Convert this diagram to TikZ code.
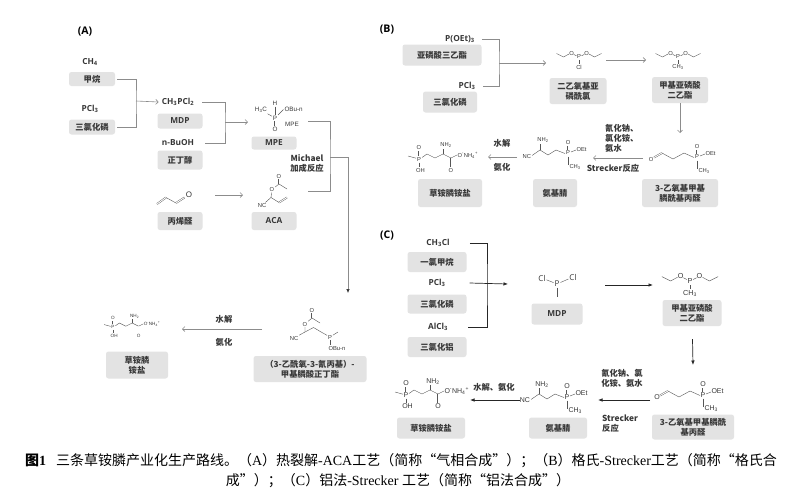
\documentclass[tikz,border=0pt]{standalone}
\usepackage{fontspec}
\setmainfont{Liberation Serif}
\newfontfamily\cjk{Noto Sans CJK SC}
\newfontfamily\lab{Open Sans}
\newfontfamily\atomfont{Liberation Sans}
\usetikzlibrary{arrows.meta,positioning}
\definecolor{boxgray}{HTML}{E3E3E3}
\definecolor{inkgray}{HTML}{383838}
\definecolor{linegray}{HTML}{8C8C8C}
\newcommand{\romtxt}[1]{{\rmfamily #1}}

\tikzset{
  namebox/.style={fill=boxgray, rounded corners=2.5pt, text=inkgray, align=center, inner sep=1pt,
    font=\cjk\bfseries\fontsize{8.3}{10}\selectfont},
  latinbox/.style={namebox, font=\lab\bfseries\fontsize{8.3}{10}\selectfont},
  formula/.style={text=inkgray, inner sep=1pt, font=\lab\bfseries\fontsize{8.3}{10}\selectfont},
  cond/.style={text=inkgray, inner sep=1pt, align=center, font=\cjk\bfseries\fontsize{8.3}{10}\selectfont},
  panel/.style={text=black, inner sep=1pt, font=\lab\bfseries\fontsize{10.5}{12}\selectfont},
  atom/.style={text=inkgray, inner sep=0.8pt, font=\atomfont\fontsize{5.8}{6}\selectfont},
  bigatoms/.style={atom/.append style={font=\atomfont\fontsize{7}{7}\selectfont}},
  bond/.style={draw=inkgray!85, line width=0.4pt},
  dbond/.style={bond, double=white, double distance=0.9pt},
  link/.style={draw=linegray, line width=0.6pt},
  thinarrow/.style={link, -{Straight Barb[length=2.5pt,width=5pt]}},
  droparrow/.style={link, -{Latex[length=4pt,width=3.5pt,color=black!80]}},
  cline/.style={draw=black!85, line width=0.7pt},
  blackarrow/.style={cline, -{Latex[length=4.5pt,width=3.5pt]}},
  caption/.style={text=black, inner sep=0pt, font=\cjk\fontsize{14}{16}\selectfont},
  % structures used more than once
  glufos/.pic={
    \node[atom] at (0,0) {P};
    \node[atom] at (0,-11.5) {O};
    \node[atom] at (1.5,11.5) {OH};
    \draw[dbond] (0,-3.5) -- (0,-8);
    \draw[bond] (0,3.5) -- (0,8);
    \draw[bond] (-11,-3) -- (-3,-0.8);
    \draw[bond] (3,-1.5) -- (8,-5) -- (16,-1) -- (24,-5) -- (32,-1);
    \draw[bond] (24,-5) -- (24,-10);
    \node[atom] at (27,-13.5) {NH\textsubscript{2}};
    \draw[dbond] (32,-1) -- (32,8);
    \node[atom] at (32,11.5) {O};
    \draw[bond] (32,-1) -- (38,-4);
    \node[atom, anchor=west] at (37.5,-3.5) {O\textsuperscript{-}NH\textsubscript{4}\textsuperscript{+}};
  },
  aminonitrile/.pic={
    \node[atom] at (0,0) {P};
    \node[atom] at (0,-10.5) {O};
    \draw[dbond] (0,-3.5) -- (0,-7.5);
    \draw[bond] (3,-1) -- (8,-3);
    \node[atom, anchor=west] at (7.5,-3.5) {OEt};
    \draw[bond] (0,3.5) -- (0,12);
    \node[atom, anchor=west] at (0.5,14) {CH\textsubscript{3}};
    \draw[bond] (-3,0.5) -- (-12,-3) -- (-20,2) -- (-28,-3) -- (-36,2.5);
    \draw[bond] (-28,-3) -- (-28,-9);
    \node[atom] at (-25,-12.5) {NH\textsubscript{2}};
    \node[atom, anchor=east] at (-36,3.5) {NC};
  },
  aldehyde/.pic={
    \node[atom] at (0,0) {P};
    \node[atom] at (0,-10.5) {O};
    \draw[dbond] (0,-3.5) -- (0,-7.5);
    \draw[bond] (3,-1) -- (8,-3);
    \node[atom, anchor=west] at (7.5,-3.5) {OEt};
    \draw[bond] (0,3.5) -- (0,12);
    \node[atom, anchor=west] at (0.5,14) {CH\textsubscript{3}};
    \draw[bond] (-3,0.5) -- (-13,-4) -- (-24,2) -- (-35,-4);
    \draw[dbond] (-35,-4) -- (-43,0.5);
    \node[atom] at (-46,2) {O};
  },
  dep/.pic={
    \node[atom] at (0,0) {P};
    \node[atom] at (-7.5,-4) {O};
    \node[atom] at (7.5,-4) {O};
    \draw[bond] (-5.3,-2.6) -- (-2.5,-1.2) (2.5,-1.2) -- (5.3,-2.6);
    \draw[bond] (-10,-3) -- (-15.5,0) -- (-22.5,-3.5);
    \draw[bond] (10,-3) -- (15.5,0) -- (22.5,-3.5);
    \draw[bond] (0,3.2) -- (0,6.5);
    \node[atom] at (0,10) {#1};
  },
}

\begin{document}
\begin{tikzpicture}[x=1pt,y=-1pt]
  \useasboundingbox (0,0) rectangle (798,496);
  \fill[white] (0,0) rectangle (798,496);

  % (A)
  \node[panel] (labA) at (85,32) {(A)};
  \node[formula] (ch4) at (90,62) {CH\textsubscript{4}};
  \node[namebox, minimum width=46, minimum height=14] (ch4box) at (92,79) {甲烷};
  \node[formula] (pcl3a) at (90,109) {PCl\textsubscript{3}};
  \node[namebox, minimum width=46, minimum height=15] (pcl3abox) at (92,127) {三氯化磷};
  \node[formula] (mdpf) at (178,102) {CH\textsubscript{3}PCl\textsubscript{2}};
  \node[latinbox, minimum width=45, minimum height=15] (mdpbox) at (180,121) {MDP};
  \node[formula] (buoh) at (178,143) {n-BuOH};
  \node[namebox, minimum width=45, minimum height=19] (buohbox) at (180,160) {正丁醇};
  \node[latinbox, minimum width=45, minimum height=13] (mpebox) at (274,143) {MPE};
  \node[namebox, minimum width=45, minimum height=18] (acrbox) at (180,221) {丙烯醛};
  \node[latinbox, minimum width=45, minimum height=18] (acabox) at (274,221) {ACA};
  \node[cond] (michael) at (307,164) {Michael\\加成反应};
  \node[namebox, minimum width=113, minimum height=26] (esterbox) at (310,369) {（3-乙酰氧-3-氰丙基）-\\甲基膦酸正丁酯};
  \node[namebox, minimum width=62, minimum height=27] (glufabox) at (137,365) {草铵膦\\铵盐};
  \node[cond] (hydra) at (224,319) {水解};
  \node[cond] (amina) at (224,342) {氨化};

  \begin{scope}[atom/.append style={font=\atomfont\fontsize{6.3}{7}\selectfont}]
    \node[atom] (mpep) at (275,118) {P};
    \node[atom] (mpeh) at (275,103.5) {H};
    \node[atom] (mpec) at (261,110) {H\textsubscript{3}C};
    \node[atom, anchor=west] (mpeo) at (283.5,109.5) {OBu-n};
    \node[atom] (mpeoo) at (275,129) {O};
    \node[atom] (mpetag) at (292,124) {MPE};
    \draw[bond] (mpeh) -- (mpep);
    \draw[bond] (mpec) -- (mpep);
    \draw[bond] (mpep) -- (mpeo.west);
    \draw[dbond] (mpep) -- (mpeoo);
  \end{scope}
  \draw[dbond] (157,204) -- (166,197.5);
  \draw[bond] (166,197.5) -- (176,203);
  \draw[dbond] (176,203) -- (184.5,197.5);
  \node[atom, font=\atomfont\fontsize{8}{8}\selectfont] (acro) at (189,195) {O};
  \node[atom] (acao1) at (279,176) {O};
  \coordinate (acac1) at (279,184);
  \node[atom] (acao2) at (272,189.5) {O};
  \coordinate (acach) at (271,197.5);
  \node[atom] (acanc) at (262,205.5) {NC};
  \draw[dbond] (acao1) -- (acac1);
  \draw[bond] (acac1) -- (287,189);
  \draw[bond] (acac1) -- (acao2) -- (acach) -- (acanc);
  \draw[bond] (acach) -- (279,202.5);
  \draw[dbond] (279,202.5) -- (287,197.5);
  \node[atom] (esto1) at (312,310) {O};
  \coordinate (estc1) at (312,318);
  \node[atom] (esto2) at (305,324) {O};
  \coordinate (estch) at (305,332);
  \node[atom] (estnc) at (294,338) {NC};
  \node[atom] (estp) at (330,337) {P};
  \node[atom, anchor=west] (estob) at (327.5,348) {OBu-n};
  \draw[dbond] (esto1) -- (estc1);
  \draw[bond] (estc1) -- (320,323);
  \draw[bond] (estc1) -- (esto2) -- (estch) -- (estnc);
  \draw[bond] (estch) -- (313.5,327.5) -- (322,332.5) -- (estp);
  \draw[bond] (estp) -- (338,332);
  \draw[bond] (estp) -- (330,344.5);
  \pic[scale=0.8, transform shape] at (113,327) {glufos};

  \coordinate (jA1) at (136,101);
  \coordinate (jA2) at (225,122);
  \coordinate (jA3) at (330,157);
  \coordinate (mpeW) at (248,122);
  \coordinate (mpeE) at (308,121);
  \coordinate (acrE) at (215,195);
  \coordinate (acaW) at (243,195);
  \coordinate (acaE) at (308,191);
  \coordinate (esterN) at (348,293);
  \coordinate (esterW) at (262,329);
  \coordinate (glufaE) at (182,329);
  \draw[link] ([xshift=2pt]ch4box.east) -| (jA1) |- ([xshift=2pt]pcl3abox.east);
  \draw[thinarrow] (jA1) -- ([xshift=-2pt]mdpf.west);
  \draw[link] ([xshift=7pt]mdpf.east) -| (jA2) |- ([xshift=10pt]buoh.east);
  \draw[thinarrow] (jA2) -- (mpeW);
  \draw[link] (mpeE) -| (jA3) |- (acaE);
  \draw[droparrow] (jA3) -| (esterN);
  \draw[thinarrow] (acrE) -- (acaW);
  \draw[thinarrow] (esterW) -- (glufaE);

  % (B)
  \node[panel] (labB) at (387,30) {(B)};
  \node[formula] (poet) at (460,39) {P(OEt)\textsubscript{3}};
  \node[namebox, minimum width=79, minimum height=21] (poetbox) at (442,55) {亚磷酸三乙酯};
  \node[formula] (pcl3b) at (467,86) {PCl\textsubscript{3}};
  \node[namebox, minimum width=54, minimum height=21] (pcl3bbox) at (450,102) {三氯化磷};
  \node[namebox, minimum width=57, minimum height=26] (clbox) at (578,91) {二乙氧基亚\\磷酰氯};
  \node[namebox, minimum width=56, minimum height=26] (depbbox) at (680,90) {甲基亚磷酸\\二乙酯};
  \node[namebox, minimum width=76, minimum height=28] (aldbbox) at (680,193) {3-乙氧基甲基\\膦酰基丙醛};
  \node[namebox, minimum width=44, minimum height=28] (anbbox) at (555,193) {氨基腈};
  \node[namebox, minimum width=64, minimum height=28] (glufbbox) at (450,193) {草铵膦铵盐};
  \node[cond, anchor=north west, align=left] (reagb) at (604,123) {氰化钠、\\氯化铵、\\氨水};
  \node[cond] (streckb) at (613,168) {Strecker反应};
  \node[cond] (hydrb) at (502,143) {水解};
  \node[cond] (aminb) at (502,167) {氨化};
  \pic at (579,57) {dep=Cl};
  \pic at (678,57) {dep={CH\textsubscript{3}}};
  \pic at (697,157) {aldehyde};
  \pic at (568,153) {aminonitrile};
  \pic at (419,159) {glufos};

  \coordinate (jB) at (499,63);
  \coordinate (clW) at (546,63);
  \coordinate (clE) at (606,60);
  \coordinate (depW) at (646,60);
  \coordinate (aldN) at (680,133);
  \coordinate (aldW) at (643,158);
  \coordinate (anE) at (593,158);
  \coordinate (anW) at (517,157);
  \coordinate (glufE) at (488,157);
  \draw[link] ([xshift=6pt]poet.east) -| (jB) |- ([xshift=6pt]pcl3b.east);
  \draw[thinarrow] (jB) -- (clW);
  \draw[thinarrow] (clE) -- (depW);
  \draw[thinarrow] (depbbox) -- (aldN);
  \draw[thinarrow] (aldW) -- (anE);
  \draw[thinarrow] (anW) -- (glufE);

  % (C)
  \node[panel] (labC) at (387,236) {(C)};
  \node[formula] (ch3cl) at (438,243) {CH\textsubscript{3}Cl};
  \node[namebox, minimum width=59, minimum height=20] (ch3clbox) at (437,262) {一氯甲烷};
  \node[formula] (pcl3c) at (437,283) {PCl\textsubscript{3}};
  \node[namebox, minimum width=59, minimum height=19] (pcl3cbox) at (437,304) {三氯化磷};
  \node[formula] (alcl3) at (438,327) {AlCl\textsubscript{3}};
  \node[namebox, minimum width=59, minimum height=20] (alcl3box) at (437,347) {三氯化铝};
  \node[latinbox, minimum width=51, minimum height=21] (mdpcbox) at (557,314) {MDP};
  \node[namebox, minimum width=59, minimum height=26] (depcbox) at (692,313) {甲基亚磷酸\\二乙酯};
  \node[namebox, minimum width=82, minimum height=25] (aldcbox) at (693,427) {3-乙氧基甲基膦酰\\基丙醛};
  \node[namebox, minimum width=58, minimum height=21] (ancbox) at (558,428) {氨基腈};
  \node[namebox, minimum width=68, minimum height=21] (glufcbox) at (431,428) {草铵膦铵盐};
  \node[cond] (reagc) at (622,378) {氰化钠、氯\\化铵、氨水};
  \node[cond, anchor=west, align=left] (streckc) at (601,424) {Strecker\\反应};
  \node[cond] (hydrc) at (494,387) {水解、氨化};

  \begin{scope}[atom/.append style={font=\lab\fontsize{8}{8}\selectfont}]
    \node[atom] (mdpcl1) at (542,278) {Cl};
    \node[atom] (mdpp) at (557,284) {P};
    \node[atom] (mdpcl2) at (573,277) {Cl};
    \draw[bond] (mdpcl1) -- (mdpp) -- (mdpcl2);
    \draw[bond] (mdpp) -- (557,297);
  \end{scope}
  \pic[scale=1.25, transform shape] at (690,281) {dep={CH\textsubscript{3}}};
  \pic[bigatoms] at (703,395) {aldehyde};
  \pic[bigatoms] at (567,397) {aminonitrile};
  \pic[bigatoms] at (406,395) {glufos};

  \coordinate (jC) at (487,284);
  \coordinate (mdpW) at (508,284);
  \coordinate (mdpE) at (605,285);
  \coordinate (depcW) at (653,285);
  \coordinate (aldcN) at (693,365);
  \coordinate (aldcW) at (650,400);
  \coordinate (ancE) at (598,400);
  \coordinate (ancW) at (520,400);
  \coordinate (glufcE) at (470,400);
  \draw[cline] ([xshift=19pt]ch3cl.east) -| (jC) |- ([xshift=19pt]alcl3.east);
  \draw[blackarrow] ([xshift=23pt]pcl3c.east) -- (mdpW);
  \draw[blackarrow] (mdpE) -- (depcW);
  \draw[blackarrow, shorten <=13pt] (depcbox) -- (aldcN);
  \draw[blackarrow] (aldcW) -- (ancE);
  \draw[blackarrow] (ancW) -- (glufcE);

  % caption
  \node[caption] (cap1) at (401,461) {{\bfseries 图\romtxt{1}}\hspace{10pt}三条草铵膦产业化生产路线。（\romtxt{A}）热裂解\romtxt{-ACA}工艺（简称“气相合成”）；（\romtxt{B}）格氏\romtxt{-Strecker}工艺（简称“格氏合};
  \node[caption] (cap2) at (398,481) {成”）；（\romtxt{C}）铝法\romtxt{-Strecker }工艺（简称“铝法合成”）};
\end{tikzpicture}
\end{document}
